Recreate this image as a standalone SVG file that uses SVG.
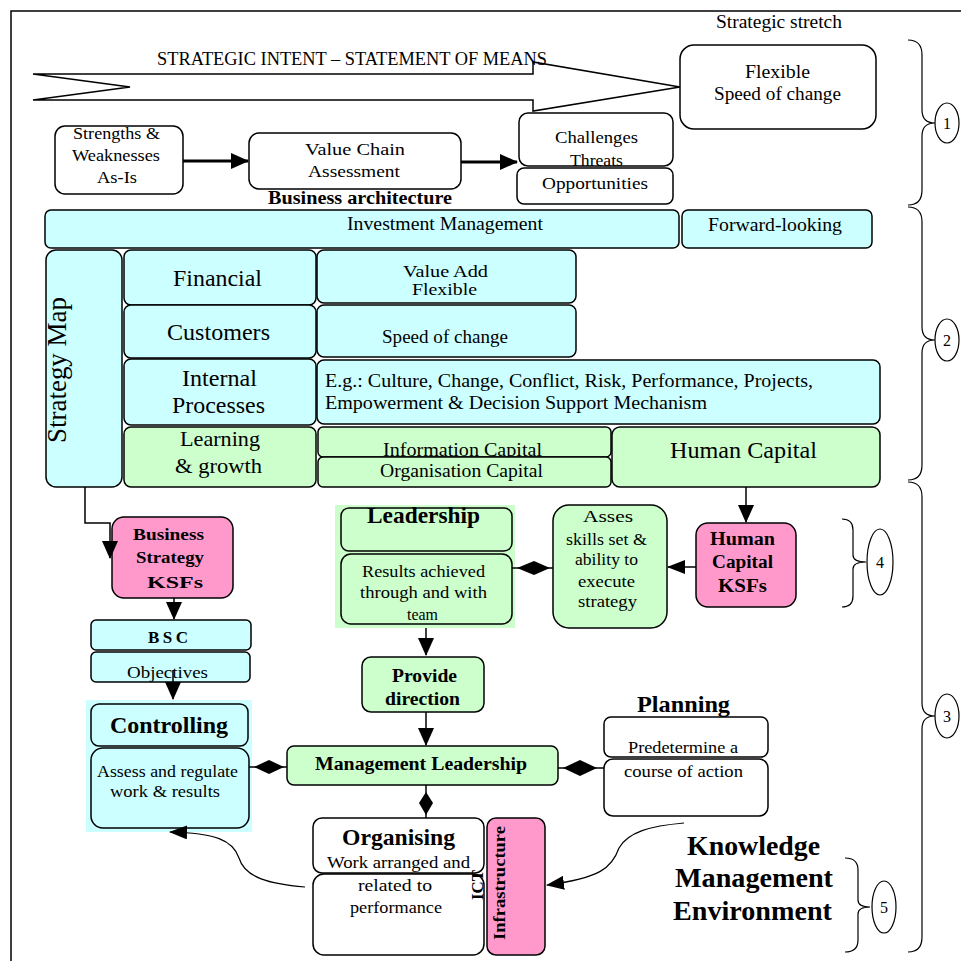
<svg xmlns="http://www.w3.org/2000/svg" width="961" height="961" viewBox="0 0 961 961">
<defs>
<style>
text{font-family:"Liberation Serif","Times New Roman",serif;fill:#000}
.b{font-weight:bold}
.box{stroke:#000;stroke-width:1.5}
.w{fill:#fff}
.c{fill:#ccffff}
.g{fill:#ccffcc}
.p{fill:#ff99cc}
.ln{fill:none;stroke:#000;stroke-width:1.5}
.thin{fill:none;stroke:#000;stroke-width:1.2}
.mid{text-anchor:middle}
</style>
<marker id="ah" viewBox="0 0 18 16" refX="17" refY="8" markerWidth="18" markerHeight="16" markerUnits="userSpaceOnUse" orient="auto">
<path d="M0,0 L18,8 L0,16 Z" fill="#000"/>
</marker>
<marker id="ahs" viewBox="0 0 18 14" refX="17" refY="7" markerWidth="18" markerHeight="14" markerUnits="userSpaceOnUse" orient="auto">
<path d="M0,0 L18,7 L0,14 Z" fill="#000"/>
</marker>
</defs>
<rect width="961" height="961" fill="#fff"/>
<g id="frame">
<path d="M11,961 L11,11 L961,11" class="ln"/>
</g>

<g id="strategic-intent">
<path d="M33,74 L533,74 L533,62 L680,87 L533,111 L533,100 L33,100 L130,87 Z" fill="#fff" stroke="#000" stroke-width="1.5"/>
<text x="157" y="65" font-size="18" textLength="390" lengthAdjust="spacingAndGlyphs">STRATEGIC INTENT – STATEMENT OF MEANS</text>
</g>
<g id="strategic-stretch">
<text x="779" y="28" font-size="18" class="mid" textLength="126" lengthAdjust="spacingAndGlyphs">Strategic stretch</text>
<rect x="680" y="45" width="196" height="84" rx="14" class="box w"/>
<text x="777.5" y="78" font-size="18" class="mid" textLength="65" lengthAdjust="spacingAndGlyphs">Flexible</text>
<text x="777.5" y="100" font-size="18" class="mid" textLength="127" lengthAdjust="spacingAndGlyphs">Speed of change</text>
</g>

<g id="strengths">
<rect x="55" y="126" width="128" height="68" rx="10" class="box w"/>
<text x="116.5" y="139" font-size="17" class="mid" textLength="87" lengthAdjust="spacingAndGlyphs">Strengths &amp;</text>
<text x="116" y="161" font-size="17" class="mid" textLength="88" lengthAdjust="spacingAndGlyphs">Weaknesses</text>
<text x="117" y="183" font-size="17" class="mid" textLength="40" lengthAdjust="spacingAndGlyphs">As-Is</text>
</g>
<g id="value-chain">
<rect x="249" y="133" width="212" height="56" rx="10" class="box w"/>
<text x="355" y="155" font-size="17" class="mid" textLength="100" lengthAdjust="spacingAndGlyphs">Value Chain</text>
<text x="354" y="177" font-size="17" class="mid" textLength="92" lengthAdjust="spacingAndGlyphs">Assessment</text>
<text x="360" y="204" font-size="18" class="mid b" textLength="184" lengthAdjust="spacingAndGlyphs">Business architecture</text>
</g>
<g id="challenges">
<rect x="519" y="113" width="154" height="53" rx="9" class="box w"/>
<text x="596.5" y="143" font-size="17" class="mid" textLength="83" lengthAdjust="spacingAndGlyphs">Challenges</text>
<text x="596.5" y="166" font-size="17" class="mid" textLength="53" lengthAdjust="spacingAndGlyphs">Threats</text>
</g>
<g id="opportunities">
<rect x="517" y="168" width="156" height="36" rx="7" class="box w"/>
<text x="595" y="189" font-size="17" class="mid" textLength="106" lengthAdjust="spacingAndGlyphs">Opportunities</text>
</g>

<g id="investment-management">
<rect x="45" y="210" width="634" height="38" rx="6" class="box c"/>
<text x="445" y="230" font-size="18" class="mid" textLength="196" lengthAdjust="spacingAndGlyphs">Investment Management</text>
</g>
<g id="forward-looking">
<rect x="682" y="210" width="190" height="38" rx="6" class="box c"/>
<text x="775" y="231" font-size="18" class="mid" textLength="134" lengthAdjust="spacingAndGlyphs">Forward-looking</text>
</g>
<g id="strategy-map">
<rect x="46" y="250" width="76" height="237" rx="10" class="box c"/>
<text transform="translate(66,370) rotate(-90)" font-size="27" class="mid" textLength="146" lengthAdjust="spacingAndGlyphs">Strategy Map</text>
</g>
<g id="financial">
<rect x="124" y="250" width="192" height="55" rx="7" class="box c"/>
<text x="217.5" y="286" font-size="24" class="mid" textLength="89" lengthAdjust="spacingAndGlyphs">Financial</text>
</g>
<g id="customers">
<rect x="124" y="305" width="192" height="53" rx="7" class="box c"/>
<text x="218.5" y="340" font-size="24" class="mid" textLength="103" lengthAdjust="spacingAndGlyphs">Customers</text>
</g>
<g id="internal-processes">
<rect x="124" y="359" width="192" height="66" rx="7" class="box c"/>
<text x="219.5" y="386" font-size="24" class="mid" textLength="75" lengthAdjust="spacingAndGlyphs">Internal</text>
<text x="218.5" y="413" font-size="24" class="mid" textLength="93" lengthAdjust="spacingAndGlyphs">Processes</text>
</g>
<g id="learning-growth">
<rect x="124" y="427" width="192" height="60" rx="7" class="box g"/>
<text x="220" y="446" font-size="22" class="mid" textLength="80" lengthAdjust="spacingAndGlyphs">Learning</text>
<text x="218.5" y="473" font-size="22" class="mid" textLength="87" lengthAdjust="spacingAndGlyphs">&amp; growth</text>
</g>
<g id="value-add">
<rect x="317" y="250" width="259" height="53" rx="7" class="box c"/>
<text x="445.5" y="277" font-size="16" class="mid" textLength="85" lengthAdjust="spacingAndGlyphs">Value Add</text>
<text x="444.5" y="295" font-size="16" class="mid" textLength="65" lengthAdjust="spacingAndGlyphs">Flexible</text>
</g>
<g id="speed-of-change">
<rect x="317" y="305" width="259" height="52" rx="7" class="box c"/>
<text x="445" y="343" font-size="18" class="mid" textLength="126" lengthAdjust="spacingAndGlyphs">Speed of change</text>
</g>
<g id="eg-culture">
<rect x="317" y="360" width="563" height="64" rx="7" class="box c"/>
<text x="325" y="387" font-size="18" textLength="488" lengthAdjust="spacingAndGlyphs">E.g.: Culture, Change, Conflict, Risk, Performance, Projects,</text>
<text x="325" y="409" font-size="18" textLength="382" lengthAdjust="spacingAndGlyphs">Empowerment &amp; Decision Support Mechanism</text>
</g>
<g id="information-capital">
<rect x="318" y="427" width="293" height="30" rx="5" class="box g"/>
<text x="462.5" y="456" font-size="18" class="mid" textLength="159" lengthAdjust="spacingAndGlyphs">Information Capital</text>
</g>
<g id="organisation-capital">
<rect x="318" y="457" width="293" height="30" rx="5" class="box g"/>
<text x="461.5" y="477" font-size="18" class="mid" textLength="163" lengthAdjust="spacingAndGlyphs">Organisation Capital</text>
</g>
<g id="human-capital">
<rect x="612" y="427" width="268" height="60" rx="8" class="box g"/>
<text x="743.5" y="458" font-size="24" class="mid" textLength="147" lengthAdjust="spacingAndGlyphs">Human Capital</text>
</g>

<g id="business-strategy-ksfs">
<rect x="112" y="517" width="121" height="81" rx="12" class="box p"/>
<text x="168.5" y="540" font-size="17" class="mid b" textLength="71" lengthAdjust="spacingAndGlyphs">Business</text>
<text x="170" y="563" font-size="17" class="mid b" textLength="68" lengthAdjust="spacingAndGlyphs">Strategy</text>
<text x="175" y="588" font-size="17" class="mid b" textLength="56" lengthAdjust="spacingAndGlyphs">KSFs</text>
</g>
<g id="bsc">
<rect x="91" y="620" width="160" height="30" rx="5" class="box c"/>
<text x="168" y="643" font-size="17" class="mid b" textLength="40" lengthAdjust="spacing">BSC</text>
</g>
<g id="objectives">
<rect x="91" y="652" width="159" height="30" rx="5" class="box c"/>
<text x="167.5" y="678" font-size="17" class="mid" textLength="81" lengthAdjust="spacingAndGlyphs">Objectives</text>
</g>
<g id="controlling">
<rect x="86" y="700" width="166" height="132" fill="#ccffff"/>
<rect x="91" y="704" width="157" height="42" rx="8" class="box c"/>
<text x="169" y="733" font-size="24" class="mid b" textLength="118" lengthAdjust="spacingAndGlyphs">Controlling</text>
<rect x="91" y="748" width="158" height="80" rx="12" class="box c"/>
<text x="167.5" y="777" font-size="17" class="mid" textLength="141" lengthAdjust="spacingAndGlyphs">Assess and regulate</text>
<text x="165" y="797" font-size="17" class="mid" textLength="110" lengthAdjust="spacingAndGlyphs">work &amp; results</text>
</g>
<g id="leadership">
<rect x="335" y="505" width="180" height="123" fill="#ccffcc"/>
<rect x="341" y="508" width="171" height="43" rx="8" class="box g"/>
<text x="423.5" y="523" font-size="23" class="mid b" textLength="113" lengthAdjust="spacingAndGlyphs">Leadership</text>
<rect x="341" y="554" width="171" height="70" rx="10" class="box g"/>
<text x="423.5" y="577" font-size="17" class="mid" textLength="123" lengthAdjust="spacingAndGlyphs">Results achieved</text>
<text x="423.5" y="598" font-size="17" class="mid" textLength="127" lengthAdjust="spacingAndGlyphs">through and with</text>
<text x="422.5" y="620" font-size="17" class="mid" textLength="31" lengthAdjust="spacingAndGlyphs">team</text>
</g>
<g id="assess-skills">
<rect x="553" y="505" width="114" height="123" rx="16" class="box g"/>
<text x="608" y="522" font-size="17" class="mid" textLength="50" lengthAdjust="spacingAndGlyphs">Asses</text>
<text x="606.5" y="545" font-size="17" class="mid" textLength="81" lengthAdjust="spacingAndGlyphs">skills set &amp;</text>
<text x="606.5" y="565" font-size="17" class="mid" textLength="63" lengthAdjust="spacingAndGlyphs">ability to</text>
<text x="606.5" y="587" font-size="17" class="mid" textLength="57" lengthAdjust="spacingAndGlyphs">execute</text>
<text x="607.5" y="607" font-size="17" class="mid" textLength="59" lengthAdjust="spacingAndGlyphs">strategy</text>
</g>
<g id="human-capital-ksfs">
<rect x="696" y="523" width="100" height="84" rx="12" class="box p"/>
<text x="742.5" y="545" font-size="18" class="mid b" textLength="65" lengthAdjust="spacingAndGlyphs">Human</text>
<text x="742.5" y="568" font-size="18" class="mid b" textLength="61" lengthAdjust="spacingAndGlyphs">Capital</text>
<text x="742.5" y="592" font-size="18" class="mid b" textLength="49" lengthAdjust="spacingAndGlyphs">KSFs</text>
</g>
<g id="provide-direction">
<rect x="362" y="657" width="122" height="55" rx="9" class="box g"/>
<text x="424.5" y="682" font-size="18" class="mid b" textLength="65" lengthAdjust="spacingAndGlyphs">Provide</text>
<text x="422.5" y="705" font-size="18" class="mid b" textLength="75" lengthAdjust="spacingAndGlyphs">direction</text>
</g>
<g id="management-leadership">
<rect x="287" y="746" width="271" height="39" rx="7" class="box g"/>
<text x="421" y="770" font-size="18" class="mid b" textLength="212" lengthAdjust="spacingAndGlyphs">Management Leadership</text>
</g>
<g id="planning">
<text x="683.5" y="712" font-size="24" class="mid b" textLength="93" lengthAdjust="spacingAndGlyphs">Planning</text>
<rect x="604" y="717" width="164" height="40" rx="7" class="box w"/>
<text x="683" y="753" font-size="17" class="mid" textLength="110" lengthAdjust="spacingAndGlyphs">Predetermine a</text>
<rect x="604" y="759" width="164" height="57" rx="9" class="box w"/>
<text x="683.5" y="777" font-size="17" class="mid" textLength="119" lengthAdjust="spacingAndGlyphs">course of action</text>
</g>
<g id="organising">
<rect x="313" y="818" width="171" height="55" rx="9" class="box w"/>
<text x="398.5" y="845" font-size="24" class="mid b" textLength="113" lengthAdjust="spacingAndGlyphs">Organising</text>
<rect x="313" y="874" width="171" height="81" rx="11" class="box w"/>
<text x="398.5" y="868" font-size="17" class="mid" textLength="143" lengthAdjust="spacingAndGlyphs">Work arranged and</text>
<text x="395" y="891" font-size="17" class="mid" textLength="74" lengthAdjust="spacingAndGlyphs">related to</text>
<text x="396" y="913" font-size="17" class="mid" textLength="92" lengthAdjust="spacingAndGlyphs">performance</text>
<text transform="translate(483,885) rotate(-90)" font-size="17" class="mid b" textLength="30" lengthAdjust="spacingAndGlyphs">ICT</text>
</g>
<g id="infrastructure">
<rect x="487" y="818" width="58" height="137" rx="9" class="box p"/>
<text transform="translate(505,883) rotate(-90)" font-size="17" class="mid b" textLength="114" lengthAdjust="spacingAndGlyphs">Infrastructure</text>
</g>
<g id="knowledge-management">
<text x="753.5" y="855" font-size="27" class="mid b" textLength="133" lengthAdjust="spacingAndGlyphs">Knowledge</text>
<text x="754" y="887" font-size="27" class="mid b" textLength="158" lengthAdjust="spacingAndGlyphs">Management</text>
<text x="752.5" y="920" font-size="27" class="mid b" textLength="159" lengthAdjust="spacingAndGlyphs">Environment</text>
</g>

<g id="brace-1">
<path d="M908,40 Q922,40 922,55 L922,110 Q922,123 935,123 Q922,123 922,136 L922,190 Q922,205 908,205" class="thin"/>
<ellipse cx="947" cy="123" rx="12" ry="20" class="thin"/>
<text x="947" y="129" font-size="16" class="mid">1</text>
</g>
<g id="brace-2">
<path d="M908,207 Q922,207 922,222 L922,327 Q922,340 935,340 Q922,340 922,353 L922,465 Q922,480 908,480" class="thin"/>
<ellipse cx="947" cy="340" rx="12" ry="21" class="thin"/>
<text x="947" y="346" font-size="16" class="mid">2</text>
</g>
<g id="brace-3">
<path d="M908,482 Q922,482 922,497 L922,703 Q922,716 935,716 Q922,716 922,729 L922,937 Q922,952 908,952" class="thin"/>
<ellipse cx="947" cy="716" rx="12" ry="22" class="thin"/>
<text x="947" y="722" font-size="16" class="mid">3</text>
</g>
<g id="brace-4">
<path d="M842,519 Q853,519 853,530 L853,555 Q853,562 866,562 Q853,562 853,569 L853,596 Q853,607 842,607" class="thin"/>
<ellipse cx="880" cy="562" rx="13" ry="33" class="thin"/>
<text x="880" y="568" font-size="16" class="mid">4</text>
</g>
<g id="brace-5">
<path d="M845,858 Q858,858 858,870 L858,900 Q858,907 870,907 Q858,907 858,914 L858,940 Q858,952 845,952" class="thin"/>
<ellipse cx="884" cy="907" rx="12" ry="26" class="thin"/>
<text x="884" y="913" font-size="16" class="mid">5</text>
</g>

<g id="connectors">
<line x1="183" y1="161" x2="248" y2="161" stroke="#000" stroke-width="3" marker-end="url(#ah)"/>
<line x1="461" y1="162" x2="517" y2="162" stroke="#000" stroke-width="3" marker-end="url(#ah)"/>
<path d="M85,487 L85,523 L110,523 L110,558" class="ln" marker-end="url(#ah)"/>
<line x1="174" y1="598" x2="174" y2="619" class="ln" marker-end="url(#ah)"/>
<line x1="173" y1="670" x2="173" y2="699" class="ln" marker-end="url(#ah)"/>
<line x1="426" y1="628" x2="426" y2="655" class="ln" marker-end="url(#ah)"/>
<line x1="426" y1="712" x2="426" y2="745" class="ln" marker-end="url(#ah)"/>
<line x1="746" y1="487" x2="746" y2="522" class="ln" marker-end="url(#ah)"/>
<line x1="696" y1="567" x2="668" y2="567" class="ln" marker-end="url(#ahs)"/>
<line x1="512" y1="568" x2="553" y2="568" class="ln"/>
<polygon points="517,568 534,561 550,568 534,575" fill="#000"/>
<line x1="249" y1="767" x2="287" y2="767" class="ln"/>
<polygon points="254,767 269,760 284,767 269,774" fill="#000"/>
<line x1="558" y1="768" x2="604" y2="768" class="ln"/>
<polygon points="563,768 580,760 597,768 580,776" fill="#000"/>
<line x1="426" y1="785" x2="426" y2="818" class="ln"/>
<polygon points="426,792 433,803 426,815 419,803" fill="#000"/>
<path d="M305,887 C270,884 245,878 239,858 C233,840 215,833 170,832" class="thin" marker-end="url(#ahs)"/>
<path d="M684,823 C650,826 628,832 619,848 C612,868 600,878 547,885" class="thin" marker-end="url(#ahs)"/>
</g>
</svg>
